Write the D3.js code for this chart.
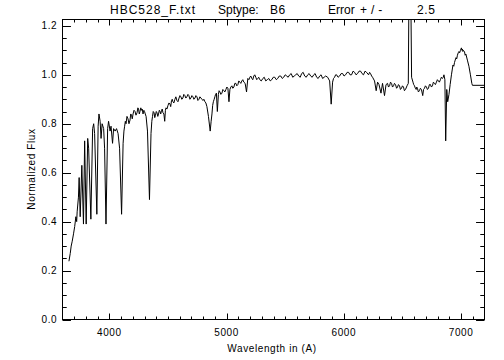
<!DOCTYPE html>
<html>
<head>
<meta charset="utf-8">
<script src="https://cdn.jsdelivr.net/npm/d3@7"></script>
<style>
  body { margin: 0; background: #fff; }
  text { font-family: "Liberation Sans", Arial, sans-serif; fill: #000; }
</style>
</head>
<body>
<script>
// spectrum: [wavelength (A), normalized flux]
var spectrum = [
  [3655,0.238],[3666,0.27],[3674,0.30],[3683,0.32],[3694,0.35],[3704,0.38],[3714,0.42],[3721,0.40],[3725,0.44],[3736,0.50],
  [3742,0.58],[3751,0.42],[3765,0.63],[3779,0.39],[3789,0.73],[3802,0.39],[3815,0.74],[3823,0.70],[3842,0.41],[3857,0.78],
  [3866,0.80],[3874,0.76],[3893,0.43],[3904,0.79],[3911,0.84],[3921,0.81],[3929,0.74],[3938,0.80],[3951,0.78],[3959,0.70],
  [3971,0.39],[3985,0.78],[3993,0.81],[4006,0.77],[4014,0.79],[4027,0.72],[4036,0.78],[4049,0.77],[4061,0.78],[4074,0.76],
  [4087,0.70],[4104,0.43],[4117,0.72],[4124,0.77],[4130,0.79],[4136,0.81],[4142,0.80],[4150,0.83],[4159,0.82],[4167,0.80],
  [4176,0.815],[4182,0.84],[4189,0.835],[4195,0.82],[4202,0.84],[4210,0.855],[4219,0.85],[4227,0.835],[4236,0.845],[4243,0.865],
  [4249,0.86],[4255,0.84],[4261,0.85],[4268,0.865],[4274,0.855],[4280,0.86],[4287,0.84],[4294,0.855],[4300,0.85],[4306,0.84],
  [4313,0.83],[4325,0.77],[4342,0.49],[4355,0.76],[4362,0.81],[4368,0.83],[4374,0.85],[4381,0.845],[4387,0.825],[4393,0.835],
  [4400,0.85],[4406,0.845],[4413,0.83],[4419,0.84],[4426,0.855],[4432,0.85],[4438,0.84],[4445,0.855],[4451,0.86],[4457,0.845],
  [4465,0.84],[4472,0.81],[4478,0.855],[4483,0.865],[4491,0.86],[4500,0.875],[4508,0.885],[4517,0.88],[4523,0.87],[4530,0.895],
  [4536,0.90],[4542,0.89],[4550,0.885],[4559,0.90],[4567,0.91],[4576,0.895],[4585,0.89],[4594,0.905],[4602,0.915],[4610,0.91],
  [4618,0.90],[4627,0.905],[4635,0.92],[4644,0.915],[4652,0.905],[4661,0.91],[4670,0.92],[4678,0.915],[4687,0.90],[4695,0.905],
  [4704,0.915],[4713,0.91],[4721,0.90],[4730,0.905],[4738,0.915],[4747,0.91],[4755,0.895],[4764,0.90],[4772,0.91],[4781,0.905],
  [4790,0.90],[4798,0.895],[4806,0.90],[4815,0.89],[4823,0.885],[4832,0.87],[4845,0.83],[4860,0.77],[4868,0.81],[4875,0.84],
  [4881,0.875],[4887,0.89],[4894,0.90],[4900,0.91],[4906,0.92],[4913,0.925],[4921,0.85],[4930,0.92],[4936,0.935],[4943,0.93],
  [4951,0.92],[4960,0.925],[4968,0.94],[4977,0.935],[4985,0.93],[4994,0.94],[5002,0.95],[5011,0.945],[5020,0.89],[5028,0.94],
  [5036,0.95],[5045,0.955],[5053,0.945],[5062,0.95],[5070,0.965],[5079,0.965],[5087,0.955],[5096,0.96],[5104,0.975],[5113,0.97],
  [5121,0.965],[5130,0.975],[5138,0.98],[5147,0.97],[5158,0.965],[5170,0.93],[5181,0.985],[5190,0.98],[5198,0.99],[5206,0.995],
  [5215,0.985],[5223,0.98],[5232,0.995],[5240,1.0],[5249,0.99],[5257,0.98],[5266,0.985],[5274,0.99],[5283,0.98],[5296,0.975],
  [5309,0.985],[5321,0.99],[5334,0.975],[5347,0.98],[5360,0.985],[5372,0.975],[5385,0.98],[5398,0.99],[5411,0.99],[5424,0.98],
  [5436,0.985],[5449,0.995],[5462,0.995],[5475,0.985],[5487,0.99],[5500,1.0],[5513,0.995],[5525,0.99],[5538,1.0],[5551,1.005],
  [5564,0.99],[5577,0.995],[5589,1.0],[5602,1.005],[5615,0.995],[5628,0.99],[5640,1.005],[5653,1.01],[5666,0.995],[5679,0.99],
  [5692,1.0],[5704,1.005],[5717,0.995],[5730,0.99],[5743,1.0],[5755,1.005],[5768,0.99],[5781,0.985],[5794,0.995],[5806,1.0],
  [5819,0.985],[5832,0.99],[5845,0.995],[5862,0.99],[5879,0.975],[5892,0.88],[5904,0.97],[5912,0.985],[5921,0.99],[5930,1.0],
  [5938,1.0],[5951,0.99],[5964,0.995],[5977,1.005],[5990,1.005],[6002,0.995],[6015,1.0],[6028,1.01],[6041,1.01],[6053,1.0],
  [6066,1.0],[6079,1.015],[6092,1.01],[6104,1.0],[6117,1.005],[6130,1.015],[6143,1.015],[6155,1.005],[6168,1.0],[6181,1.015],
  [6194,1.01],[6211,1.0],[6220,1.01],[6228,1.005],[6237,0.995],[6245,0.99],[6262,0.975],[6276,0.935],[6288,0.97],[6300,0.96],
  [6317,0.925],[6330,0.965],[6347,0.915],[6360,0.96],[6373,0.965],[6381,0.95],[6390,0.955],[6398,0.97],[6407,0.965],[6415,0.95],
  [6424,0.955],[6432,0.965],[6441,0.96],[6450,0.945],[6458,0.95],[6466,0.96],[6475,0.955],[6483,0.94],[6492,0.945],[6500,0.955],
  [6509,0.95],[6517,0.935],[6526,0.94],[6539,0.955],[6550,0.965],[6558,1.5],[6568,1.5],[6578,0.99],[6590,0.97],[6596,0.96],
  [6603,0.955],[6610,0.945],[6617,0.94],[6622,0.95],[6628,0.945],[6636,0.93],[6645,0.935],[6653,0.945],[6662,0.94],[6673,0.915],
  [6680,0.94],[6688,0.945],[6696,0.955],[6705,0.95],[6713,0.94],[6722,0.945],[6730,0.96],[6739,0.96],[6747,0.95],[6756,0.955],
  [6764,0.97],[6773,0.965],[6781,0.96],[6790,0.97],[6798,0.98],[6807,0.975],[6815,0.97],[6824,0.98],[6832,0.99],[6841,0.985],
  [6848,0.99],[6854,1.0],[6862,0.98],[6869,0.73],[6878,0.94],[6886,0.89],[6897,0.92],[6907,0.96],[6918,1.0],[6931,1.04],
  [6938,1.035],[6944,1.05],[6950,1.06],[6957,1.07],[6963,1.065],[6969,1.08],[6976,1.09],[6982,1.095],[6988,1.09],[6995,1.10],
  [7003,1.11],[7008,1.10],[7012,1.105],[7016,1.095],[7020,1.10],[7029,1.095],[7035,1.08],[7041,1.085],[7054,1.06],[7067,1.035],
  [7080,1.0],[7092,0.965],[7097,0.957],[7250,0.957]
];

var xMajor = [4000, 5000, 6000, 7000];
var yMajor = [0, 0.2, 0.4, 0.6, 0.8, 1.0, 1.2];
var yLabels = ["0.0", "0.2", "0.4", "0.6", "0.8", "1.0", "1.2"];
var titleParts = ["HBC528_F.txt", "Sptype:", "B6", "Error", "+/-", "2.5"];
var titleX = [110, 218, 270, 328, 360, 417];
var titleLS = [1, 0, 0.6, 0, 4, 0.6];   // letter spacing per piece

var w = 504, h = 360;
var L = 62.5, R = 484.5, T = 19.5, B = 319.5;

var x = d3.scaleLinear().domain([3600, 7200]).range([L, R]);
var y = d3.scaleLinear().domain([0, 1.226]).range([B, T]);

var xMinor = d3.range(3700, 7200, 100).filter(d => xMajor.indexOf(d) < 0);
var yMinor = d3.range(0.05, 1.226, 0.05).filter(d => Math.abs(Math.round(d * 5) - d * 5) > 0.01);

var svg = d3.select("body").append("svg")
    .attr("width", w)
    .attr("height", h);

svg.append("clipPath").attr("id", "clip")
  .append("rect")
    .attr("x", L).attr("y", T)
    .attr("width", R - L).attr("height", B - T);

// spectrum
var line = d3.line()
    .x(d => x(d[0]))
    .y(d => y(d[1]));

svg.append("path")
    .datum(spectrum)
    .attr("clip-path", "url(#clip)")
    .attr("d", line)
    .attr("fill", "none")
    .attr("stroke", "#000")
    .attr("stroke-width", 1);

// frame
svg.append("rect")
    .attr("x", L).attr("y", T)
    .attr("width", R - L).attr("height", B - T)
    .attr("fill", "none")
    .attr("stroke", "#000")
    .attr("stroke-width", 1);

var xt = 0.02 * (B - T);   // IDL tick length
var yt = 0.02 * (R - L);

var ticks = svg.append("g").attr("stroke", "#000").attr("stroke-width", 1);

function xTick(v, len) {
  var px = Math.round(x(v)) + 0.5;
  ticks.append("line").attr("x1", px).attr("x2", px).attr("y1", B).attr("y2", B - len);
  ticks.append("line").attr("x1", px).attr("x2", px).attr("y1", T).attr("y2", T + len);
}
function yTick(v, len) {
  var py = Math.round(y(v)) + 0.5;
  ticks.append("line").attr("x1", L).attr("x2", L + len).attr("y1", py).attr("y2", py);
  ticks.append("line").attr("x1", R).attr("x2", R - len).attr("y1", py).attr("y2", py);
}
xMajor.forEach(v => xTick(v, xt));
xMinor.forEach(v => xTick(v, xt / 2));
yMajor.forEach(v => yTick(v, yt));
yMinor.forEach(v => yTick(v, yt / 2));

// tick labels
svg.append("g").selectAll("text")
    .data(xMajor)
    .enter()
    .append("text")
    .attr("x", d => x(d))
    .attr("y", 336)
    .attr("text-anchor", "middle")
    .style("font-size", "10px")
    .style("letter-spacing", "0.6px")
    .text(d => d);

svg.append("g").selectAll("text")
    .data(yMajor)
    .enter()
    .append("text")
    .attr("x", 57)
    .attr("y", d => y(d) + 3.5)
    .attr("text-anchor", "end")
    .style("font-size", "10px")
    .style("letter-spacing", "0.5px")
    .text((d, i) => yLabels[i]);

// axis titles
svg.append("text")
    .attr("x", 272)
    .attr("y", 352)
    .attr("text-anchor", "middle")
    .style("font-size", "10px")
    .style("letter-spacing", "0.6px")
    .text("Wavelength in (A)");

svg.append("text")
    .attr("transform", "translate(35," + 169 + ") rotate(-90)")
    .attr("text-anchor", "middle")
    .style("font-size", "10px")
    .style("letter-spacing", "0.6px")
    .text("Normalized Flux");

// title
svg.append("g").selectAll("text")
    .data(titleParts)
    .enter()
    .append("text")
    .attr("x", (d, i) => titleX[i])
    .attr("y", 14)
    .style("font-size", "12px")
    .style("letter-spacing", (d, i) => titleLS[i] + "px")
    .text(d => d);
</script>
</body>
</html>
